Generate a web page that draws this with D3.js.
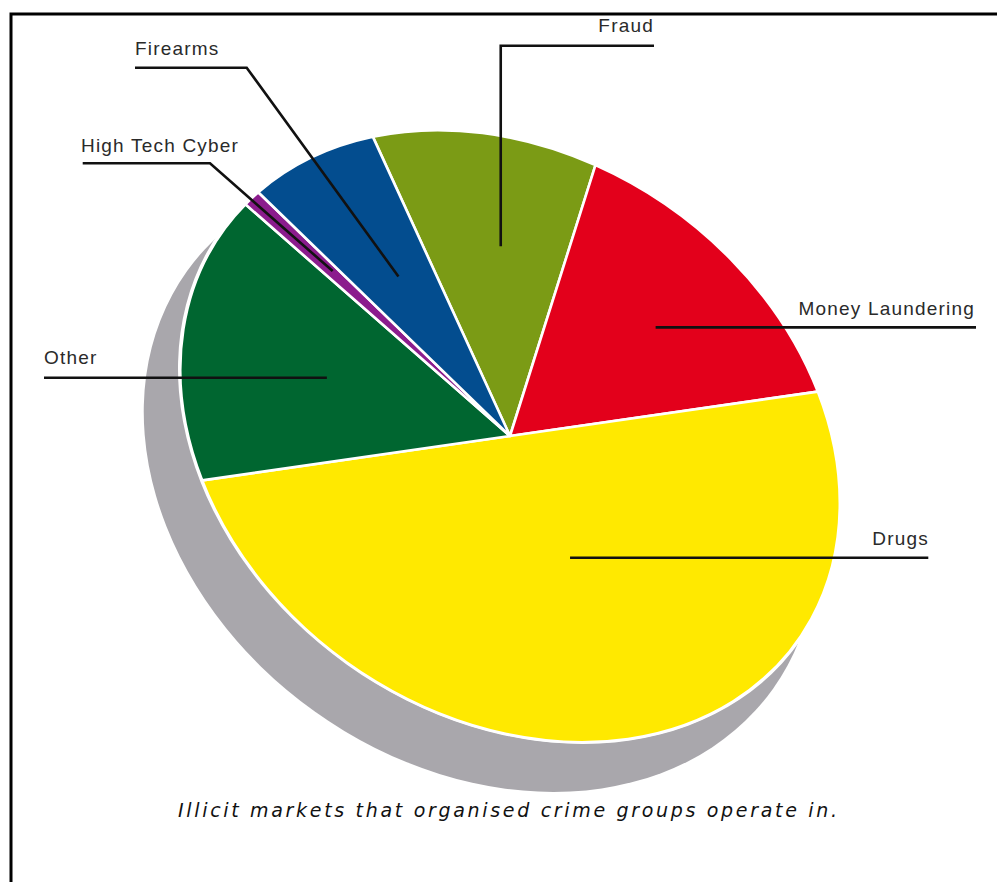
<!DOCTYPE html>
<html><head><meta charset="utf-8">
<script src="https://cdn.jsdelivr.net/npm/d3@7"></script>
<style>html,body{margin:0;padding:0;background:#fff;} svg{display:block;}</style>
</head><body>
<svg id="chart" width="997" height="882"></svg>
<script>
// ---- data ----
const categories = ["Fraud", "Money Laundering", "Drugs", "Other", "High Tech Cyber", "Firearms"];
const values = [11, 15, 50, 16, 1, 7];
const colors = ["#7b9b15", "#e3001b", "#ffe900", "#006630", "#8b1c8d", "#034d8f"];
const caption = "Illicit markets that organised crime groups operate in.";

// ---- layout (positions / styles) ----
const W = 997, H = 882;
const cx = 510, cy = 436;           // pie vertex
const R = 352.7, RY = 278.9;        // ellipse semi-axes (tilted disc)
const ROT = 35.5;                   // tilt of major axis, degrees
const startDeg = -54;
const shadowOffset = [-30, 44];
const shadowScale = 1.02;
// leader anchor inside each slice: fraction of radius, fraction of slice angle
const anchorFrac = [0.63, 0.64, 0.41, 0.56, 0.69, 0.57];
const anchorT = [0.556, 0.53, 0.47, 0.49, 0.6, 0.53];
// leader line route after the anchor point, and label text placement
const leaderLayout = [
  { route: a => [[a[0], 45.7], [654, 45.7]], tx: 654, ty: 32, ta: "end" },
  { route: a => [[976, a[1]]], tx: 975, ty: 315, ta: "end" },
  { route: a => [[928.3, a[1]]], tx: 929, ty: 545, ta: "end" },
  { route: a => [[44, a[1]]], tx: 44, ty: 364, ta: "start" },
  { route: a => [[210, 163.3], [82.7, 163.3]], tx: 81, ty: 152, ta: "start" },
  { route: a => [[246.7, 67.7], [135, 67.7]], tx: 135, ty: 55, ta: "start" }
];

const svg = d3.select("#chart");
svg.append("rect").attr("width", W).attr("height", H).attr("fill", "#fff");

// frame
svg.append("path")
  .attr("d", `M11,${H} L11,14 L${W},14`)
  .attr("fill", "none").attr("stroke", "#000").attr("stroke-width", 3);

const data = categories.map((c, i) => ({ name: c, value: values[i], color: colors[i], i }));
const pie = d3.pie().sort(null).value(d => d.value)
  .startAngle(startDeg * Math.PI / 180)
  .endAngle((startDeg + 360) * Math.PI / 180);
const arcs = pie(data);
const arc = d3.arc().innerRadius(0).outerRadius(R);
const full = d3.arc().innerRadius(0).outerRadius(R).startAngle(0).endAngle(2 * Math.PI);

const tilt = `rotate(${ROT}) scale(1,${RY / R})`;

// shadow
svg.append("g")
  .attr("transform", `translate(${cx + shadowOffset[0]},${cy + shadowOffset[1]}) ${tilt} scale(${shadowScale})`)
  .append("path").attr("d", full()).attr("fill", "#a9a7ac");

// pie
const gPie = svg.append("g").attr("transform", `translate(${cx},${cy}) ${tilt}`);
gPie.append("path")
  .attr("d", d3.arc().innerRadius(0).outerRadius(R + 2.5).startAngle(0).endAngle(2 * Math.PI)())
  .attr("fill", "#fff");
gPie.selectAll("path.slice").data(arcs).enter().append("path")
  .attr("class", "slice")
  .attr("d", arc)
  .attr("fill", d => d.data.color)
  .attr("stroke", "#fff").attr("stroke-width", 2.6)
  .attr("stroke-linejoin", "round")
  .attr("vector-effect", "non-scaling-stroke");

// map from pie coordinates to screen
const rad = ROT * Math.PI / 180;
function toScreen(p) {
  const sx = p[0], sy = p[1] * RY / R;
  return [cx + sx * Math.cos(rad) - sy * Math.sin(rad), cy + sx * Math.sin(rad) + sy * Math.cos(rad)];
}

// leader lines + labels
const gLab = svg.append("g");
arcs.forEach((a, i) => {
  const r = anchorFrac[i] * R;
  const ang = a.startAngle + anchorT[i] * (a.endAngle - a.startAngle);
  const anchor = toScreen([r * Math.sin(ang), -r * Math.cos(ang)]);
  const lay = leaderLayout[i];
  const pts = [anchor].concat(lay.route(anchor));
  gLab.append("path")
    .attr("d", d3.line()(pts))
    .attr("fill", "none").attr("stroke", "#111").attr("stroke-width", 2.6)
    .attr("stroke-linejoin", "miter");
  gLab.append("text")
    .attr("x", lay.tx).attr("y", lay.ty)
    .attr("text-anchor", lay.ta)
    .attr("font-family", "Liberation Sans, Arial, sans-serif")
    .attr("font-size", 19).attr("letter-spacing", 1.2)
    .attr("fill", "#2a2a2a")
    .text(a.data.name);
});

// caption
svg.append("text")
  .attr("x", 178).attr("y", 817)
  .attr("font-family", "DejaVu Sans, sans-serif")
  .attr("font-style", "italic").attr("font-size", 19)
  .attr("textLength", 659).attr("lengthAdjust", "spacing")
  .attr("fill", "#111")
  .text(caption);
</script>
</body></html>
